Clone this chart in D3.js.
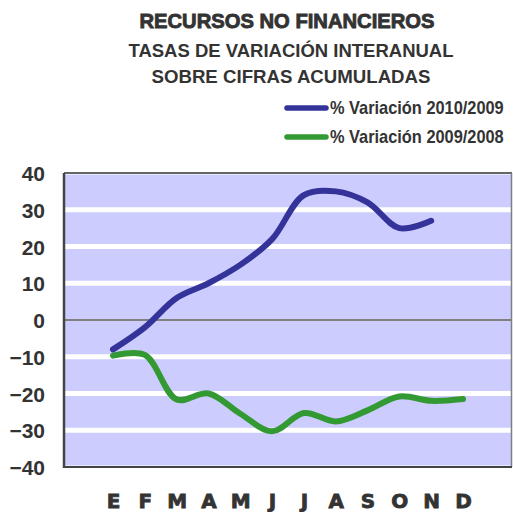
<!DOCTYPE html>
<html>
<head>
<meta charset="utf-8">
<script src="https://cdn.jsdelivr.net/npm/d3@7"></script>
<style>
  body { margin: 0; background: #fff; }
  svg { display: block; }
</style>
</head>
<body>
<div id="chart"></div>
<script>
// months (Spanish initials)
const months = ["E","F","M","A","M","J","J","A","S","O","N","D"];
// % Variación 2010/2009 (no data for D)
const var2010 = [-8, -2, 6, 10, 15, 22, 34, 35, 32, 25, 27, null];
// % Variación 2009/2008
const var2009 = [-9.7, -9.5, -21.6, -20, -25.5, -30.3, -25.3, -27.6, -24.6, -20.8, -22, -21.5];
const yTicks = [-40, -30, -20, -10, 0, 10, 20, 30, 40];

const width = 513, height = 512;
const plotL = 64, plotR = 512, plotT = 173, plotB = 467;

const svg = d3.select("#chart").append("svg")
  .attr("width", width).attr("height", height);

const x = d3.scalePoint().domain(d3.range(months.length)).range([plotL, plotR]).padding(1.54);
const y = d3.scaleLinear().domain([-40, 40]).range([plotB, plotT]);

// titles
const titleFont = "'Liberation Sans', Arial, sans-serif";
const titles = [
  {t: "RECURSOS NO FINANCIEROS", y: 28, size: 21, len: 295, x: 287, sw: 0.9},
  {t: "TASAS DE VARIACIÓN INTERANUAL", y: 57, size: 18, len: 325, x: 291, sw: 0},
  {t: "SOBRE CIFRAS ACUMULADAS", y: 83, size: 18, len: 279, x: 291, sw: 0}
];
svg.append("g").selectAll("text").data(titles).enter().append("text")
  .attr("x", d=>d.x).attr("y", d=>d.y)
  .attr("text-anchor", "middle")
  .attr("font-family", titleFont).attr("font-weight", "bold")
  .attr("font-size", d=>d.size).attr("fill", "#333")
  .attr("stroke", "#333").attr("stroke-width", d=>d.sw)
  .attr("textLength", d=>d.len).attr("lengthAdjust", "spacingAndGlyphs")
  .text(d=>d.t);

// plot background
svg.append("rect").attr("x", plotL).attr("y", plotT)
  .attr("width", plotR-plotL).attr("height", plotB-plotT)
  .attr("fill", "#ccccff");

// white gridlines
svg.append("g").selectAll("line").data(yTicks.filter(d=>d!==0)).enter().append("line")
  .attr("x1", plotL).attr("x2", plotR)
  .attr("y1", d=>y(d)).attr("y2", d=>y(d))
  .attr("stroke", "#fff").attr("stroke-width", d=>(d===40||d===-40)?3:5);

// zero line
svg.append("line").attr("x1", plotL).attr("x2", plotR)
  .attr("y1", y(0)).attr("y2", y(0))
  .attr("stroke", "#808080").attr("stroke-width", 2);

// frame
svg.append("line").attr("x1", plotL).attr("x2", plotR).attr("y1", plotT).attr("y2", plotT)
  .attr("stroke", "#333").attr("stroke-width", 1.5);
svg.append("line").attr("x1", plotR-0.5).attr("x2", plotR-0.5).attr("y1", plotT).attr("y2", plotB)
  .attr("stroke", "#808080").attr("stroke-width", 1.5);
svg.append("line").attr("x1", plotL).attr("x2", plotR).attr("y1", plotB).attr("y2", plotB)
  .attr("stroke", "#444").attr("stroke-width", 2);
svg.append("line").attr("x1", plotL).attr("x2", plotL).attr("y1", plotT).attr("y2", plotB+1)
  .attr("stroke", "#444").attr("stroke-width", 2.5);

// y axis labels
const yAxis = d3.axisLeft(y).tickValues(yTicks).tickSize(0).tickPadding(19);
const gy = svg.append("g").attr("transform", `translate(${plotL},0)`).call(yAxis);
gy.select(".domain").remove();
gy.selectAll("text")
  .attr("font-family", "'Liberation Sans', Arial, sans-serif")
  .attr("font-weight", "bold").attr("font-size", 21).attr("fill", "#333")
  .attr("dy", "0.36em");

// x axis labels
const xAxis = d3.axisBottom(x).tickSize(0).tickFormat(i=>months[i]);
const gx = svg.append("g").attr("transform", `translate(0,${plotB})`).call(xAxis);
gx.select(".domain").remove();
gx.selectAll("text")
  .attr("font-family", "'DejaVu Sans', sans-serif")
  .attr("font-weight", "bold").attr("font-size", 20).attr("fill", "#333")
  .attr("stroke", "#333").attr("stroke-width", 0.8)
  .attr("y", 41).attr("dy", 0);

// lines
const line = d3.line()
  .defined(d=>d[1]!==null)
  .x(d=>x(d[0])).y(d=>y(d[1]))
  .curve(d3.curveCatmullRom.alpha(0.5));

const series = [
  {vals: var2010, color: "#333399", name: "% Variación 2010/2009"},
  {vals: var2009, color: "#339933", name: "% Variación 2009/2008"}
];
svg.append("g").selectAll("path").data(series.slice().reverse()).enter().append("path")
  .attr("d", d=>line(d.vals.map((v,i)=>[i,v])))
  .attr("fill", "none").attr("stroke", d=>d.color)
  .attr("stroke-width", 6).attr("stroke-linecap", "round").attr("stroke-linejoin", "round");

// legend
const lg = svg.append("g").selectAll("g").data(series).enter().append("g")
  .attr("transform", (d,i)=>`translate(0,${108 + i*29})`);
lg.append("line").attr("x1", 287).attr("x2", 326).attr("y1", 0).attr("y2", 0)
  .attr("stroke", d=>d.color).attr("stroke-width", 5.5).attr("stroke-linecap", "round");
lg.append("text").attr("transform", "translate(330,6) scale(0.91,1)")
  .attr("font-family", titleFont).attr("font-weight", "bold")
  .attr("font-size", 18).attr("fill", "#333")
  .text(d=>d.name);
</script>
</body>
</html>
